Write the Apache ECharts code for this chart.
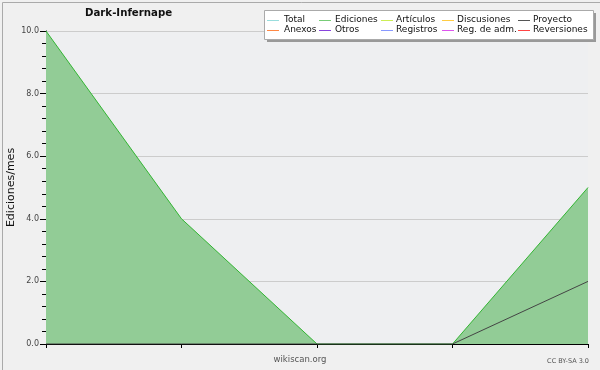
<!DOCTYPE html>
<html><head><meta charset="utf-8">
<script src="https://cdn.jsdelivr.net/npm/echarts@6/dist/echarts.min.js"></script>
<style>html,body{margin:0;padding:0;background:#f0f0f0}#c{width:600px;height:370px}</style>
</head><body><div id="c"></div>
<script>
const title = 'Dark-Infernape';
const yAxisName = 'Ediciones/mes';
const categories = ['m1', 'm2', 'm3', 'm4', 'm5'];
const ediciones = [10, 4, 0, 0, 5];
const proyecto = [0, 0, 0, 0, 2];
const legendRow1 = ['Total', 'Ediciones', 'Artículos', 'Discusiones', 'Proyecto'];
const legendRow2 = ['Anexos', 'Otros', 'Registros', 'Reg. de adm.', 'Reversiones'];
const legendColors = {
  'Total': '#99dddd', 'Ediciones': '#77cc77', 'Artículos': '#ccee55', 'Discusiones': '#ffcc44', 'Proyecto': '#555555',
  'Anexos': '#ff8844', 'Otros': '#8844dd', 'Registros': '#8899ff', 'Reg. de adm.': '#dd55ee', 'Reversiones': '#ff4444'
};
const yTicks = [0, 2, 4, 6, 8, 10];

const chart = echarts.init(document.getElementById('c'), null, {renderer: 'canvas'});
const font = 'DejaVu Sans';
const colIconX = [267, 319, 381, 442, 518];
const colTextX = [284, 335, 396, 457, 533];
const rowY = [20, 30];

const legendGraphics = [];
[legendRow1, legendRow2].forEach((row, r) => {
  row.forEach((n, i) => {
    legendGraphics.push({type: 'line', z: 20, silent: true,
      shape: {x1: colIconX[i], y1: rowY[r] + 0.5, x2: colIconX[i] + 12, y2: rowY[r] + 0.5},
      style: {stroke: legendColors[n], lineWidth: 1}});
    legendGraphics.push({type: 'text', z: 20, silent: true, x: colTextX[i], y: rowY[r],
      style: {text: n, font: '9px DejaVu Sans', fill: '#111', textVerticalAlign: 'middle', verticalAlign: 'middle'}});
  });
});

const names = legendRow1.concat(legendRow2);
const series = names.map(n => {
  const c = legendColors[n];
  const s = {name: n, type: 'line', data: [], symbol: 'none', color: c,
    itemStyle: {color: c}, lineStyle: {width: 1, color: c}, silent: true};
  if (n === 'Ediciones') {
    s.data = ediciones;
    s.lineStyle = {width: 1, color: '#33b533'};
    s.areaStyle = {color: '#92cc96', opacity: 1};
    s.z = 2;
  }
  if (n === 'Proyecto') {
    s.data = proyecto;
    s.lineStyle = {width: 1, color: '#444444'};
    s.z = 3;
  }
  return s;
});

chart.setOption({
  backgroundColor: '#f0f0f0',
  animation: false,
  title: {text: title, left: 80, top: 3,
    textStyle: {fontFamily: font, fontSize: 10.2, fontWeight: 'bold', color: '#111'}},
  grid: {left: 46, right: 12, top: 31, bottom: 26, containLabel: false, outerBoundsMode: 'none',
    show: true, backgroundColor: '#eeeff1', borderWidth: 0},
  xAxis: {type: 'category', data: categories, boundaryGap: false,
    axisLine: {lineStyle: {color: '#000', width: 1}},
    axisTick: {show: true, length: 4, alignWithLabel: true, lineStyle: {color: '#000'}},
    axisLabel: {show: false}, splitLine: {show: false}},
  yAxis: {type: 'value', min: yTicks[0], max: yTicks[yTicks.length - 1], interval: 2,
    name: yAxisName, nameLocation: 'middle', nameGap: 29, nameMoveOverlap: false,
    nameTextStyle: {fontFamily: font, fontSize: 11, color: '#111'},
    axisLine: {show: true, lineStyle: {color: '#000'}},
    axisTick: {show: true, length: 6, lineStyle: {color: '#000'}},
    minorTick: {show: true, splitNumber: 5, length: 4, lineStyle: {color: '#000'}},
    axisLabel: {fontFamily: font, fontSize: 8, color: '#444', margin: 7, formatter: v => v.toFixed(1)},
    splitLine: {show: true, lineStyle: {color: '#cccccc', width: 1}}},
  series: series,
  graphic: [
    {type: 'rect', left: 0, top: 0, shape: {width: 599, height: 369}, style: {fill: 'none', stroke: '#aaaaaa', lineWidth: 1}, z: 100, silent: true},
    {type: 'rect', left: 267, top: 13, shape: {width: 329, height: 29}, style: {fill: '#999999'}, z: 5, silent: true},
    {type: 'rect', left: 264, top: 10, shape: {width: 329, height: 29}, style: {fill: '#ffffff', stroke: '#aaaaaa', lineWidth: 1}, z: 6, silent: true},
    {type: 'text', left: 'center', top: 355, style: {text: 'wikiscan.org', font: '8.5px DejaVu Sans', fill: '#555'}, z: 60},
    {type: 'text', right: 11, top: 358, style: {text: 'CC BY-SA 3.0', font: '6.5px DejaVu Sans', fill: '#555'}, z: 60}
  ].concat(legendGraphics)
});
</script></body></html>
